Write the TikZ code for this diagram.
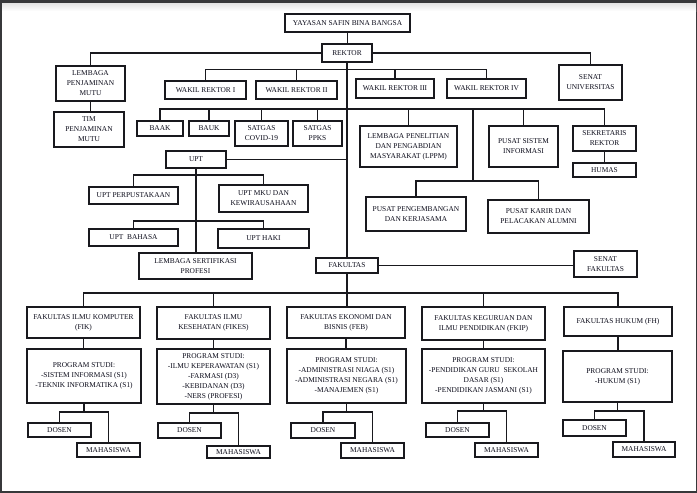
\documentclass[tikz,border=0pt]{standalone}
\usepackage{fontspec}
\setmainfont{Liberation Serif}
\definecolor{framec}{RGB}{55,56,58}
\definecolor{inkc}{RGB}{25,25,30}
\definecolor{textc}{RGB}{10,10,25}
\newcommand{\bx}[6]{\node[box, minimum width={(#4-#2)*1pt}, minimum height={(#5-#3)*1pt}] (#1) at ({(#2+#4)/2},{(#3+#5)/2}) {#6};}
\tikzset{
  box/.style={draw=inkc, line width=1.4pt, fill=white, inner sep=0pt, align=center,
    text=textc, font=\fontsize{7.4}{10}\selectfont},
  conn/.style={draw=inkc, line width=1.1pt}
}
\begin{document}
\begin{tikzpicture}[x=1pt,y=-1pt]
\useasboundingbox (0,0) rectangle (697,493);
\fill[framec] (0,0) rectangle (697,493);
\fill[white] (2,3) rectangle (696,491);
\shade[top color=gray!22, bottom color=white] (2,3) rectangle (696,11);

% top level
\bx{yay}{285}{14}{410}{32}{YAYASAN SAFIN BINA BANGSA}
\bx{rek}{322}{44}{372}{62}{REKTOR}
\bx{lpm}{56}{66}{125}{101}{LEMBAGA\\PENJAMINAN\\MUTU}
\bx{tim}{54}{112}{124}{147}{TIM\\PENJAMINAN\\MUTU}
\bx{senu}{559}{65}{622}{100}{SENAT\\UNIVERSITAS}
\bx{wr1}{165}{81}{246}{99}{WAKIL REKTOR I}
\bx{wr2}{256}{81}{337}{99}{WAKIL REKTOR II}
\bx{wr3}{356}{79}{434}{98}{WAKIL REKTOR III}
\bx{wr4}{447}{79}{526}{98}{WAKIL REKTOR IV}
\bx{baak}{137}{121}{183}{136}{BAAK}
\bx{bauk}{189}{121}{229}{136}{BAUK}
\bx{covid}{235}{121}{288}{146}{SATGAS\\COVID-19}
\bx{ppks}{293}{121}{342}{146}{SATGAS\\PPKS}
\bx{lppm}{360}{126}{457}{167}{LEMBAGA PENELITIAN\\DAN PENGABDIAN\\MASYARAKAT (LPPM)}
\bx{psi}{489}{126}{558}{167}{PUSAT SISTEM\\INFORMASI}
\bx{sek}{573}{126}{636}{151}{SEKRETARIS\\REKTOR}
\bx{humas}{573}{163}{636}{177}{HUMAS}
\bx{pp}{366}{197}{466}{231}{PUSAT PENGEMBANGAN\\DAN KERJASAMA}
\bx{pk}{488}{200}{589}{233}{PUSAT KARIR DAN\\PELACAKAN ALUMNI}
\bx{upt}{166}{151}{226}{168}{UPT}
\bx{perp}{89}{187}{178}{204}{UPT PERPUSTAKAAN}
\bx{mku}{219}{185}{308}{212}{UPT MKU DAN\\KEWIRAUSAHAAN}
\bx{bhs}{89}{229}{178}{246}{UPT\ \ BAHASA}
\bx{haki}{218}{229}{309}{248}{UPT HAKI}
\bx{lsp}{139}{253}{252}{279}{LEMBAGA SERTIFIKASI\\PROFESI}
\bx{fak}{316}{258}{378}{273}{FAKULTAS}
\bx{senf}{574}{251}{637}{277}{SENAT\\FAKULTAS}

% faculties
\bx{fik}{27}{307}{140}{338}{FAKULTAS ILMU KOMPUTER\\(FIK)}
\bx{fikes}{157}{307}{270}{339}{FAKULTAS ILMU\\KESEHATAN (FIKES)}
\bx{feb}{287}{307}{405}{338}{FAKULTAS EKONOMI DAN\\BISNIS (FEB)}
\bx{fkip}{422}{307}{545}{340}{FAKULTAS KEGURUAN DAN\\ILMU PENDIDIKAN (FKIP)}
\bx{fh}{564}{307}{672}{336}{FAKULTAS HUKUM (FH)}

\bx{ps1}{27}{349}{141}{403}{PROGRAM STUDI:\\-SISTEM INFORMASI (S1)\\-TEKNIK INFORMATIKA (S1)}
\bx{ps2}{157}{349}{270}{404}{PROGRAM STUDI:\\-ILMU KEPERAWATAN (S1)\\-FARMASI (D3)\\-KEBIDANAN (D3)\\-NERS (PROFESI)}
\bx{ps3}{287}{349}{406}{403}{PROGRAM STUDI:\\-ADMINISTRASI NIAGA (S1)\\-ADMINISTRASI NEGARA (S1)\\-MANAJEMEN (S1)}
\bx{ps4}{422}{349}{545}{403}{PROGRAM STUDI:\\-PENDIDIKAN GURU\ \ SEKOLAH\\DASAR (S1)\\-PENDIDIKAN JASMANI (S1)}
\bx{ps5}{563}{351}{672}{402}{PROGRAM STUDI:\\-HUKUM (S1)}

\bx{d1}{28}{423}{91}{437}{DOSEN}
\bx{m1}{77}{443}{140}{457}{MAHASISWA}
\bx{d2}{158}{423}{221}{438}{DOSEN}
\bx{m2}{207}{446}{270}{458}{MAHASISWA}
\bx{d3}{291}{423}{355}{438}{DOSEN}
\bx{m3}{341}{443}{404}{458}{MAHASISWA}
\bx{d4}{426}{423}{489}{437}{DOSEN}
\bx{m4}{475}{443}{538}{457}{MAHASISWA}
\bx{d5}{563}{420}{626}{436}{DOSEN}
\bx{m5}{613}{442}{675}{457}{MAHASISWA}

% connectors
\draw[conn] (yay.south) -- (yay.south |- rek.north);
\draw[conn] (rek.west) -| (lpm.north);
\draw[conn] (rek.east) -| (senu.north);
\draw[conn] (lpm.south) -- (lpm.south |- tim.north);
\draw[conn] (rek.south) -- (rek.south |- fak.north);
\draw[conn] (fak.south) -- (fak.south |- feb.north);

\draw[conn] (wr1.north) |- (wr4.north |- 0,69.5) -- (wr4.north);
\draw[conn] (wr2.north) -- (wr2.north |- 0,69.5);
\draw[conn] (wr3.north) -- (wr3.north |- 0,69.5);

\draw[conn] (baak.north) |- (sek.north |- 0,109) -- (sek.north);
\foreach \n in {bauk,covid,ppks,lppm,psi}
  \draw[conn] (\n.north) -- (\n.north |- 0,109);
\coordinate (pj) at (473,181);
\draw[conn] (pj |- 0,109) -- (pj);
\draw[conn] (pp.north) |- (pk.north |- pj) -- (pk.north);
\draw[conn] (sek.south) -- (sek.south |- humas.north);

\draw[conn] (upt.east) -- (upt.east -| rek.south);
\draw[conn] (upt.south) -- (upt.south |- lsp.north);
\draw[conn] (perp.north) |- (mku.north |- 0,175) -- (mku.north);
\draw[conn] (bhs.north) |- (haki.north |- 0,221) -- (haki.north);
\draw[conn] (fak.east) -- (fak.east -| senf.west);

\draw[conn] (fik.north) |- (fh.north |- 0,293) -- (fh.north);
\draw[conn] (fikes.north) -- (fikes.north |- 0,293);
\draw[conn] (fkip.north) -- (fkip.north |- 0,293);

\foreach \f/\p in {fik/ps1,fikes/ps2,feb/ps3,fkip/ps4,fh/ps5}
  \draw[conn] (\f.south) -- (\f.south |- \p.north);

\foreach \p/\d/\m/\y in {ps1/d1/m1/412,ps2/d2/m2/413,ps3/d3/m3/412,ps4/d4/m4/411,ps5/d5/m5/411}{
  \draw[conn] (\p.south) -- (\p.south |- 0,\y);
  \draw[conn] (\d.north) |- (\m.north |- 0,\y) -- (\m.north);
}
\end{tikzpicture}
\end{document}
